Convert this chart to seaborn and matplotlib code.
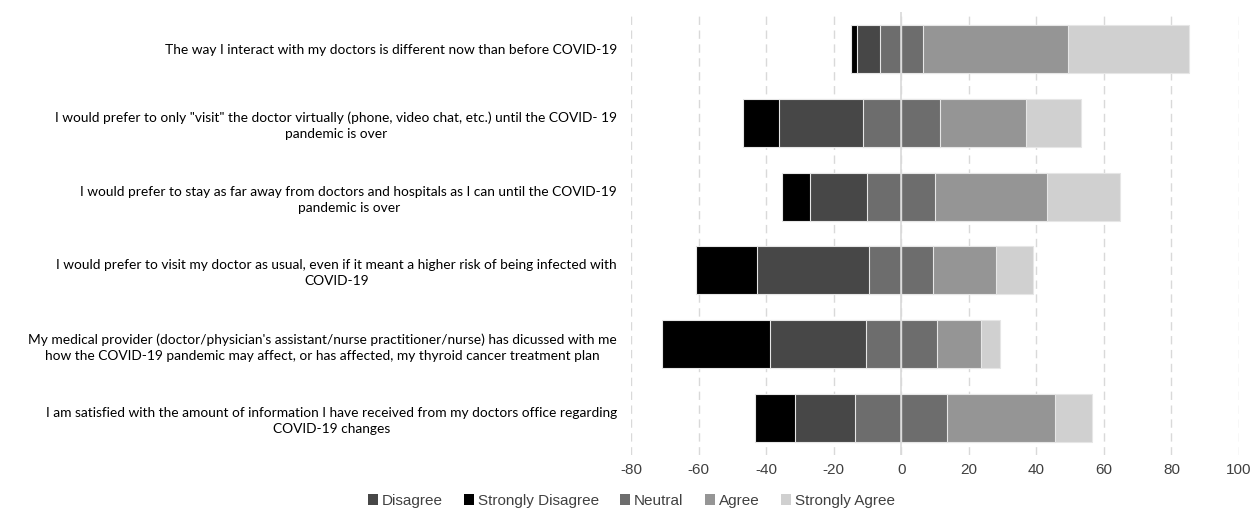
import numpy as np
import pandas as pd
import matplotlib
matplotlib.use('Agg')
import matplotlib.pyplot as plt
import seaborn as sns
from matplotlib.patches import Patch

# survey statements, top to bottom
statements = [
    'The way I interact with my doctors is different now than before COVID-19',
    'I would prefer to only "visit" the doctor virtually (phone, video chat, etc.) until the COVID- 19\npandemic is over',
    'I would prefer to stay as far away from doctors and hospitals as I can until the COVID-19\npandemic is over',
    'I would prefer to visit my doctor as usual, even if it meant a higher risk of being infected with\nCOVID-19',
    "My medical provider (doctor/physician's assistant/nurse practitioner/nurse) has dicussed with me\nhow the COVID-19 pandemic may affect, or has affected, my thyroid cancer treatment plan",
    'I am satisfied with the amount of information I have received from my doctors office regarding\nCOVID-19 changes',
]

# percent of respondents per answer
strongly_disagree = [1.7, 10.7, 8.1, 18.2, 32.0, 11.9]
disagree = [6.8, 24.7, 17.1, 33.1, 28.3, 17.9]
neutral = [12.7, 22.9, 20.1, 19.1, 20.9, 27.1]
agree = [43.1, 25.4, 33.0, 18.5, 13.2, 31.9]
strongly_agree = [35.8, 16.3, 21.7, 11.1, 5.5, 11.1]

colors = {
    'Strongly Disagree': '#000000',
    'Disagree': '#474747',
    'Neutral': '#6d6d6d',
    'Agree': '#959595',
    'Strongly Agree': '#d0d0d0',
}
legend_order = ['Disagree', 'Strongly Disagree', 'Neutral', 'Agree', 'Strongly Agree']


def build_frame():
    '''
    Cumulative segment ends for a diverging bar, neutral split around zero.
    Bars are drawn from zero and overlapped, outermost first.
    '''
    df = pd.DataFrame({
        'statement': statements,
        'sd': strongly_disagree,
        'd': disagree,
        'n': neutral,
        'a': agree,
        'sa': strongly_agree,
    })
    half = df['n'] / 2
    df['Strongly Agree'] = half + df['a'] + df['sa']
    df['Agree'] = half + df['a']
    df['Neutral_pos'] = half
    df['Strongly Disagree'] = -(half + df['d'] + df['sd'])
    df['Disagree'] = -(half + df['d'])
    df['Neutral_neg'] = -half
    return df


def plot_diverging(df):
    sns.set_style('white')
    plt.rcParams['axes.unicode_minus'] = False
    fig = plt.figure(figsize=(12.5, 5.09), dpi=100)
    ax = fig.add_axes([0.5048, 0.1061, 0.4864, 0.8703])

    layers = [
        ('Strongly Agree', 'Strongly Agree'),
        ('Agree', 'Agree'),
        ('Neutral_pos', 'Neutral'),
        ('Strongly Disagree', 'Strongly Disagree'),
        ('Disagree', 'Disagree'),
        ('Neutral_neg', 'Neutral'),
    ]
    for col, key in layers:
        sns.barplot(data=df, x=col, y='statement', orient='h', color=colors[key],
                    width=0.65, edgecolor='#e6e6e6', linewidth=0.8, saturation=1,
                    errorbar=None, ax=ax, zorder=2)

    ax.set_xlim(-80, 100)
    ax.set_ylim(5.5, -0.5)
    ax.set_xticks(np.arange(-80, 101, 20))
    ax.xaxis.grid(True, linestyle=(0, (6, 4)), color='#d9d9d9', linewidth=1, zorder=0)
    ax.set_axisbelow(True)
    ax.axvline(0, color='#d9d9d9', linewidth=1.2, zorder=5)
    ax.set_xlabel('')
    ax.set_ylabel('')
    sns.despine(ax=ax, left=True, bottom=True)
    ax.tick_params(axis='x', length=0, pad=6, labelsize=11, labelcolor='#404040')
    ax.tick_params(axis='y', length=0, pad=10, labelsize=9.9, labelcolor='#000000')
    for t in ax.get_xticklabels():
        t.set_fontfamily('Liberation Sans')
    for t in ax.get_yticklabels():
        t.set_fontfamily('Lato')
        t.set_multialignment('center')
        t.set_linespacing(1.4)

    handles = [Patch(facecolor=colors[k], edgecolor='none', label=k) for k in legend_order]
    fig.legend(handles=handles, loc='center', bbox_to_anchor=(0.505, 0.016), ncol=5,
               frameon=False, handlelength=0.65, handleheight=0.65, handletextpad=0.25,
               columnspacing=1.4, prop={'family': 'Liberation Sans', 'size': 11},
               labelcolor='#404040')
    return fig


if __name__ == '__main__':
    df = build_frame()
    fig = plot_diverging(df)
    fig.savefig('out.png', dpi=100)
